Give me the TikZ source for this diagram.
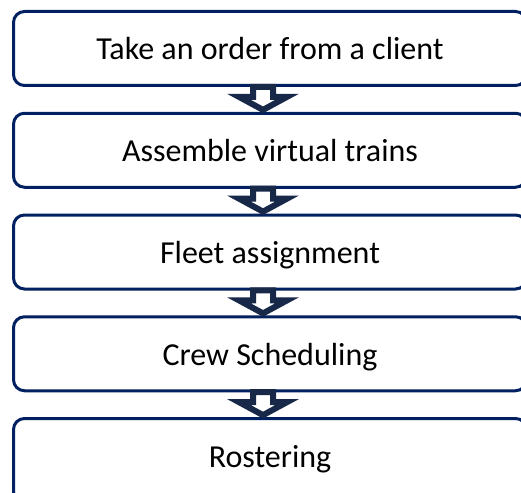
\documentclass[tikz,border=0pt]{standalone}
\usepackage{fontspec}
\setmainfont{Carlito}
\usetikzlibrary{positioning,calc}

\definecolor{boxnavy}{RGB}{0,32,96}
\definecolor{arrownavy}{RGB}{23,40,72}

\begin{document}
\begin{tikzpicture}[x=1pt,y=-1pt,node distance=27.75pt]
  \tikzstyle{stage}=[draw=boxnavy,line width=3pt,rounded corners=11pt,outer sep=0pt,
    minimum width=513pt,minimum height=74pt,text height=25pt,text depth=2pt,
    font=\fontsize{32}{38}\selectfont]
  \tikzset{downarrow/.pic={
    \draw[draw=arrownavy,fill=white,line width=6pt,miter limit=10]
      (-10,-12.5) -- (10,-12.5) -- (10,-2.5) -- (24,-2.5) -- (0,10.5)
      -- (-24,-2.5) -- (-10,-2.5) -- cycle;}}
  \useasboundingbox (0,0) rectangle (521,492);
  \node[stage] (order) at (270,48.5) {Take an order from a client};
  \node[stage,below=of order] (trains) {Assemble virtual trains};
  \node[stage,below=of trains] (fleet) {Fleet assignment};
  \node[stage,below=of fleet] (crew) {Crew Scheduling};
  \node[stage,below=of crew,minimum height=84pt,text depth=12pt] (roster) {Rostering};
  \pic at ($(order.south)!0.5!(trains.north)+(-7,0)$) {downarrow};
  \pic at ($(trains.south)!0.5!(fleet.north)+(-7,0)$) {downarrow};
  \pic at ($(fleet.south)!0.5!(crew.north)+(-7,0)$) {downarrow};
  \pic at ($(crew.south)!0.5!(roster.north)+(-7,0)$) {downarrow};
\end{tikzpicture}
\end{document}
